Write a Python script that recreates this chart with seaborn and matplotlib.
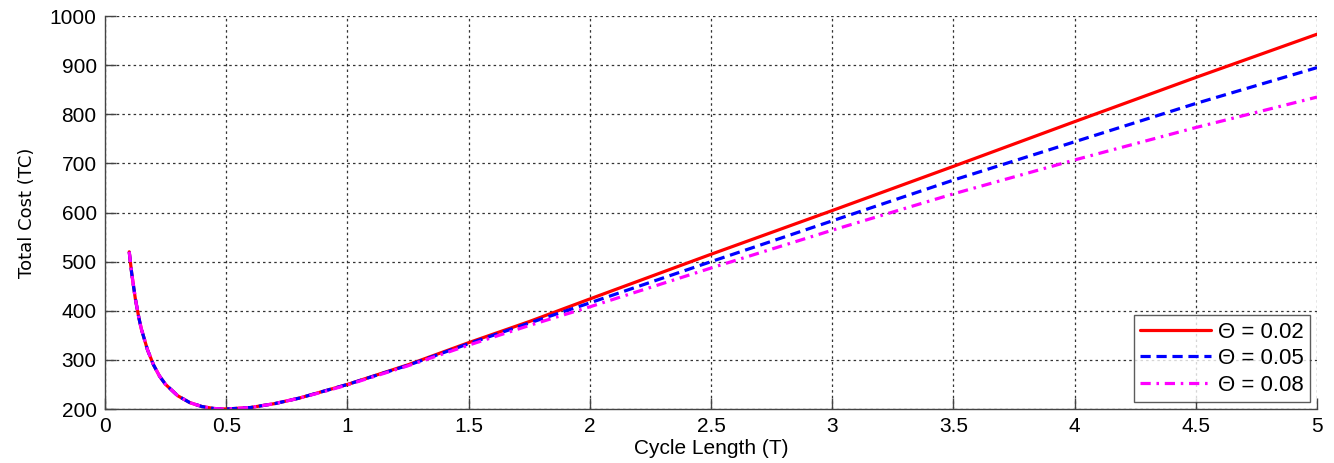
import matplotlib
matplotlib.use("Agg")
import matplotlib.pyplot as plt
import pandas as pd
import seaborn as sns

# cycle length T
cycle_length = [0.1, 0.11, 0.125, 0.14, 0.15, 0.175, 0.2, 0.225, 0.25, 0.3, 0.35,
                0.4, 0.45, 0.5, 0.6, 0.7, 0.8, 0.9, 1.0, 1.25, 1.5, 1.75, 2.0,
                2.5, 3.0, 3.5, 4.0, 4.5, 5.0]

# total cost for each theta
tc_002 = [520, 477, 425, 385, 363, 321, 290, 267, 250, 227, 213,
          205, 201, 200, 203, 211, 222, 236, 250, 290, 335, 378, 424,
          515, 604, 694, 785, 875, 963]
tc_005 = [520, 477, 425, 385, 363, 321, 290, 267, 250, 227, 213,
          205, 201, 200, 203, 211, 222, 236, 250, 289, 333, 375, 416,
          500, 583, 666, 744, 822, 895]
tc_008 = [520, 477, 425, 385, 363, 321, 290, 267, 250, 227, 213,
          205, 201, 200, 203, 211, 222, 235, 249, 288, 330, 370, 408,
          487, 564, 638, 707, 773, 835]

series_labels = ["\u0398 = 0.02", "\u0398 = 0.05", "\u0398 = 0.08"]

sns.set_style("white")
plt.rcParams["font.family"] = ["Liberation Sans", "DejaVu Sans"]

fig, ax = plt.subplots(figsize=(13.34, 4.63), dpi=100)
fig.subplots_adjust(left=0.0787, right=0.9873, top=0.9654, bottom=0.1166)

styles = [
    ("red", "-"),
    ("blue", (0, (3.2, 1.8))),
    ("magenta", (0, (3.2, 1.8, 0.8, 1.8))),
]
for vals, label, (color, ls) in zip([tc_002, tc_005, tc_008], series_labels, styles):
    df = pd.DataFrame({"T": cycle_length, "TC": vals})
    sns.lineplot(data=df, x="T", y="TC", color=color, linestyle=ls,
                 linewidth=2.3, label=label, ax=ax)

ax.set_xlim(0, 5)
ax.set_ylim(200, 1000)
ax.set_xticks([0, 0.5, 1, 1.5, 2, 2.5, 3, 3.5, 4, 4.5, 5])
ax.set_xticklabels(["0", "0.5", "1", "1.5", "2", "2.5", "3", "3.5", "4", "4.5", "5"])
ax.set_yticks(range(200, 1001, 100))

ax.grid(True, color="#333333", linestyle=(0, (2, 2.5)), linewidth=0.9)
ax.set_axisbelow(True)
for side in ["top", "right"]:
    ax.spines[side].set_visible(False)
for side in ["left", "bottom"]:
    ax.spines[side].set_color("#444444")
    ax.spines[side].set_linewidth(1.0)

ax.tick_params(axis="both", direction="in", length=8, width=1, color="#444444",
               labelsize=15, labelcolor="black", left=True, bottom=True, pad=6)

ax.set_xlabel("Cycle Length (T)", fontsize=15, labelpad=2, color="black")
ax.set_ylabel("Total Cost (TC)", fontsize=13, color="black",
              family=["Liberation Sans Narrow", "DejaVu Sans"], labelpad=10)

leg = ax.legend(loc="lower right", fontsize=16, frameon=True, fancybox=False,
                edgecolor="#333333", handlelength=3.2, borderpad=0.3,
                labelspacing=0.25, handletextpad=0.3, borderaxespad=0.3)
leg.get_frame().set_linewidth(1.0)
for text in leg.get_texts():
    text.set_color("black")

fig.savefig("out.png", dpi=100)
plt.close(fig)
